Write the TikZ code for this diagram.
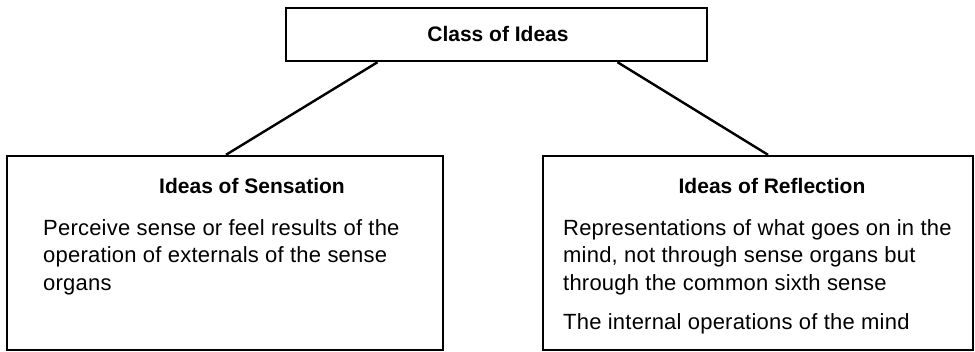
\documentclass[tikz,border=0pt]{standalone}
\usepackage{fontspec}
\setmainfont{Liberation Sans}
\newfontfamily\spacedfont[LetterSpace=1]{Liberation Sans}
\usetikzlibrary{positioning}

\begin{document}
\begin{tikzpicture}
    [
        x=1pt, y=-1pt,
        ideabox/.style = {
            rectangle, draw=black, line width=2.4pt, inner sep=0pt
            },
        heading/.style = {
            anchor=base, inner sep=0pt,
            font=\fontsize{21}{25}\selectfont\bfseries
            },
        bodytext/.style = {
            anchor=north west, inner sep=0pt, align=left,
            font=\spacedfont\fontsize{22}{27.5}\selectfont
            },
        link/.style = {
            draw=black, line width=2.4pt
            },
    ]
    \useasboundingbox (0,0) rectangle (975,351);
    % boxes
    \node[ideabox, minimum width=421pt, minimum height=53pt] (class) at (496.5,34.5) {};
    \node[ideabox, minimum width=436pt, minimum height=194pt] (sensation) at (225,253) {};
    \node[ideabox, minimum width=430pt, minimum height=194pt] (reflection) at (758,253) {};
    % texts
    \node[heading] (class title) at (498,41) {Class of Ideas};
    \node[heading] (sensation title) at (252,193) {Ideas of Sensation};
    \node[heading] (reflection title) at (772,193) {Ideas of Reflection};
    \node[bodytext] (sensation text) at (43,219)
        {Perceive sense or feel results of the\\
         operation of externals of the sense\\
         organs};
    \node[bodytext] (reflection text) at (563,219)
        {Representations of what goes on in the\\
         mind, not through sense organs but\\
         through the common sixth sense\\[11.5pt]
         The internal operations of the mind};
    % connectors
    \draw[link] ([xshift=-119pt]class.south) -- ([xshift=1pt]sensation.north);
    \draw[link] ([xshift=121pt]class.south) -- ([xshift=10pt]reflection.north);
\end{tikzpicture}
\end{document}
